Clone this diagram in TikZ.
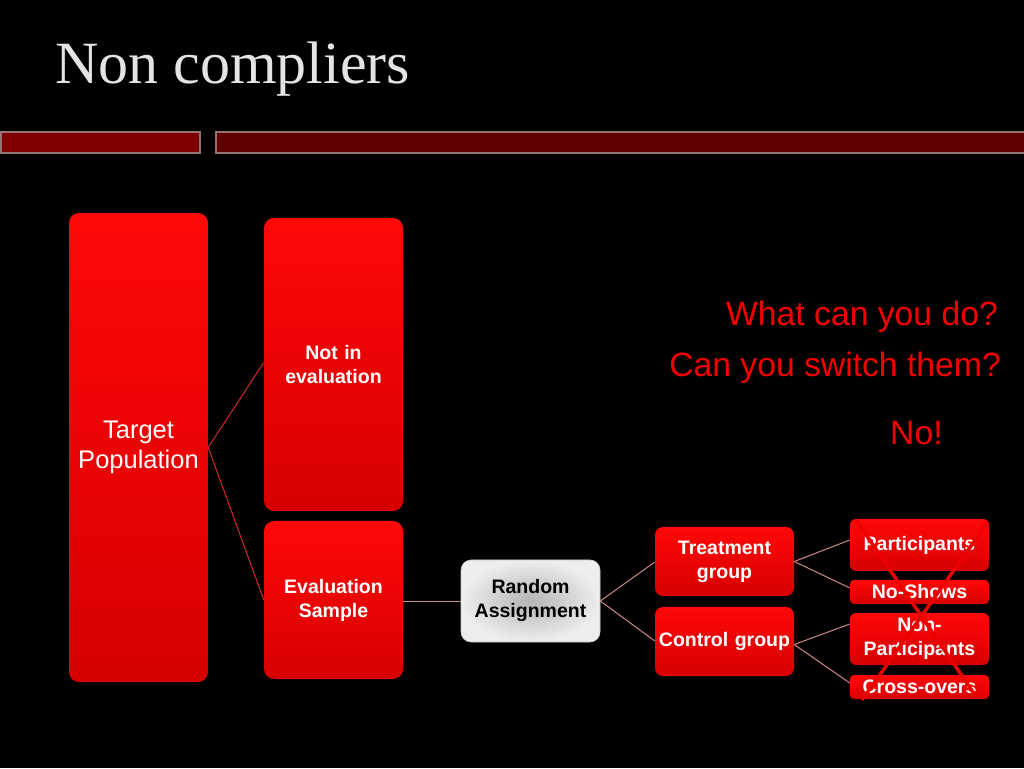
\documentclass[tikz,border=0pt]{standalone}
\usepackage{fontspec}
\newfontfamily\arial{Liberation Sans}
\newfontfamily\titleserif{Liberation Serif}
\definecolor{redtop}{RGB}{255,8,8}
\definecolor{redbot}{RGB}{214,0,0}
\definecolor{titlegray}{RGB}{228,228,228}
\definecolor{txtred}{RGB}{245,0,0}
\definecolor{crossred}{RGB}{236,0,0}
\definecolor{conpink}{RGB}{205,135,135}
\definecolor{conred}{RGB}{215,40,40}
\definecolor{barA}{RGB}{128,0,0}
\definecolor{barB}{RGB}{98,0,0}
\definecolor{barline}{RGB}{150,115,115}
\begin{document}
\begin{tikzpicture}[x=1pt,y=1pt,
  redbox/.style={rectangle, rounded corners=#1, shade, top color=redtop, bottom color=redbot,
     text=white, align=center, inner sep=0pt, text width=139pt, minimum width=139pt,
     font=\arial\bfseries\fontsize{19.5}{24}\selectfont},
  redbox/.default=10pt,
  graybox/.style={rectangle, rounded corners=10pt, shade, inner color={rgb,255:red,180;green,180;blue,180},
     outer color={rgb,255:red,238;green,238;blue,238}, draw={rgb,255:red,200;green,200;blue,200}, line width=0.6pt,
     text=black, align=center, inner sep=0pt, text width=139pt, minimum width=139pt,
     font=\arial\bfseries\fontsize{19.5}{24}\selectfont},
  conn/.style={draw=conpink, line width=1pt},
  connr/.style={draw=conred, line width=1pt},
  bigtext/.style={text=txtred, font=\arial\fontsize{33.7}{38}\selectfont, inner sep=0pt},
  cross/.style={draw=crossred, line width=3.5pt}
]
\useasboundingbox (0,0) rectangle (1024,768);
\fill[black] (0,0) rectangle (1024,768);

% title
\node[anchor=base west, inner sep=0pt, text=titlegray, font=\titleserif\fontsize{60}{64}\selectfont] (title) at (55,684) {Non compliers};

% bars
\draw[fill=barA, draw=barline, line width=1.5pt] (1,636) rectangle (200,615);
\draw[fill=barB, draw=barline, line width=1.5pt] (216,636) rectangle (1030,615);

% boxes
\node[redbox, minimum height=469pt, font=\arial\fontsize{25.5}{30}\selectfont] (tp) at (138.5,320.5) {Target\\Population};
\node[redbox, minimum height=293pt] (nie) at (333.5,403.5) {Not in\\evaluation};
\node[redbox, minimum height=158pt] (es) at (333.5,168) {Evaluation\\Sample};
\node[graybox, minimum height=82pt] (ra) at (530.5,167) {Random\\Assignment};
\node[redbox=8pt, minimum height=69pt] (tg) at (724.5,206.5) {Treatment\\group};
\node[redbox=8pt, minimum height=69pt] (cg) at (724.5,126.5) {Control group};
\node[redbox=6pt, minimum height=52pt] (pa) at (919.5,223) {Participants};
\node[redbox=4pt, minimum height=24pt] (ns) at (919.5,176) {No-Shows};
\node[redbox=6pt, minimum height=52pt] (np) at (919.5,129) {Non-\\Participants};
\node[redbox=4pt, minimum height=24pt] (co) at (919.5,81) {Cross-overs};

% connectors
\draw[connr] (tp.east) -- ([yshift=2pt]nie.west);
\draw[connr] (tp.east) -- (es.west);
\draw[conn] ([yshift=-2pt]es.east) -- ([yshift=-1pt]ra.west);
\draw[conn] (ra.east) -- ([yshift=-0.5pt]tg.west);
\draw[conn] (ra.east) -- ([yshift=0.5pt]cg.west);
\draw[conn] (tg.east) -- ([yshift=5pt]pa.west);
\draw[conn] (tg.east) -- ([yshift=4pt]ns.west);
\draw[conn] ([yshift=-3pt]cg.east) -- ([yshift=15pt]np.west);
\draw[conn] ([yshift=-3pt]cg.east) -- ([yshift=4pt]co.west);

% cross
\coordinate (x1) at (856,248);
\coordinate (x2) at (977,70);
\coordinate (x3) at (988,246);
\coordinate (x4) at (862,68);
\draw[cross] (x1) -- (x2);
\draw[cross] (x3) -- (x4);

% questions
\node[bigtext, anchor=base east] (q1) at (998,442) {What can you do?};
\node[bigtext, anchor=base east] (q2) at (1001,391) {Can you switch them?};
\node[bigtext, anchor=base west] (q3) at (890,323) {No!};
\end{tikzpicture}
\end{document}
